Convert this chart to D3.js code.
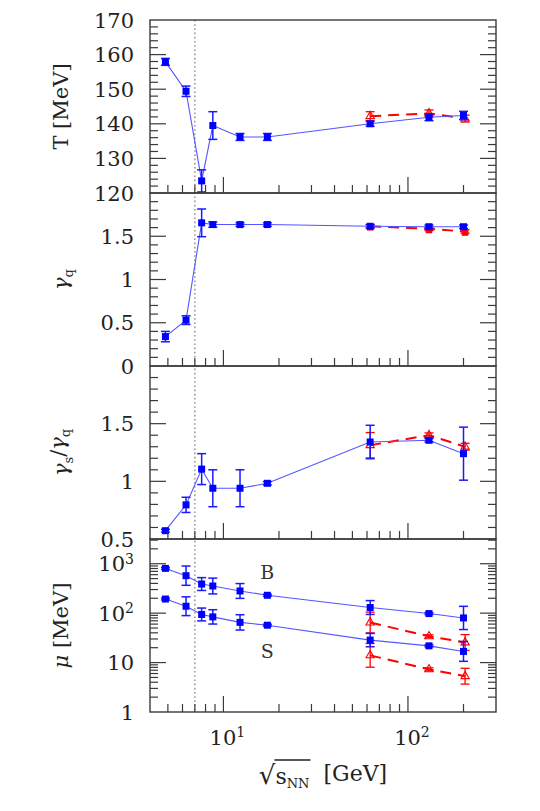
<!DOCTYPE html>
<html><head><meta charset="utf-8">
<script src="https://cdn.jsdelivr.net/npm/d3@7"></script>
<style>body{margin:0;background:#fff}svg{display:block}</style>
</head><body>
<svg id="c" width="540" height="811"></svg>
<script>
// ---------------- data ----------------
const energies    = [4.85, 6.27, 7.62, 8.76, 12.3, 17.3, 62.4, 130, 200];
const redEnergies = [62.4, 130, 204];

const tempBlue    = [157.9, 149.4, 123.5, 139.5, 136.2, 136.2, 140.0, 141.9, 142.4];
const tempBlueErr = [1.0, 1.5, 3.2, 4.0, 1.0, 1.0, 0.7, 1.0, 1.2];
const tempRed     = [142.2, 143.0, 141.5];
const tempRedErr  = [1.3, 1.0, 1.0];

const gqBlue      = [0.34, 0.53, 1.655, 1.635, 1.635, 1.635, 1.615, 1.61, 1.61];
const gqBlueErr   = [0.06, 0.05, 0.16, 0.03, 0.02, 0.02, 0.02, 0.02, 0.02];
const gqRed       = [1.615, 1.585, 1.555];
const gqRedErr    = [0.02, 0.02, 0.02];

const gsqBlue     = [0.572, 0.796, 1.106, 0.94, 0.94, 0.983, 1.341, 1.356, 1.24];
const gsqBlueErr  = [0.012, 0.066, 0.134, 0.16, 0.16, 0.015, 0.145, 0.015, 0.23];
const gsqRed      = [1.313, 1.40, 1.30];
const gsqRedErr   = [0.11, 0.02, 0.03];

// chemical potentials (MeV); errors are given in decades (log10 half-widths)
const muBBlue       = [804, 573, 388, 354, 281, 230, 130, 98, 80];
const muBBlueLogErr = [0.02, 0.195, 0.13, 0.16, 0.15, 0.02, 0.14, 0.02, 0.235];
const muSBlue       = [193, 138, 94, 84, 65, 57, 28.5, 21.8, 16.8];
const muSBlueLogErr = [0.02, 0.19, 0.13, 0.145, 0.155, 0.02, 0.135, 0.02, 0.2];
const muBRed        = [64.6, 34, 25.5];
const muBRedLogErr  = [0.21, 0.03, 0.16];
const muSRed        = [14, 7.3, 5.3];
const muSRedLogErr  = [0.24, 0.03, 0.16];

const panelLabels = ["T [MeV]", "γq", "γs/γq", "μ [MeV]"];
const tickLabels1 = [120, 130, 140, 150, 160, 170];
const tickLabels2 = [0, 0.5, 1, 1.5];
const tickLabels3 = [0.5, 1, 1.5];
const tickLabels4 = [1, 10, 100, 1000];
const xTickLabels = [10, 100];
const annotations = [{text: "B", e: 17.3, v: 500}, {text: "S", e: 17.3, v: 12.3}];
const dividerEnergy = 7;

// ---------------- layout ----------------
const L = 150, R = 496, TOP = 20, PH = 173;
const FONT = "'DejaVu Serif', serif";
const BLUE = "#0000ff", RED = "#ff0000", AX = "#3a3a3a";
const svg = d3.select("#c");
const x = d3.scaleLog().domain([4, 300]).range([L, R]);

const zip = (e, v, er) => e.map((d, i) => ({e: d, v: v[i], err: er[i]}));

const panels = [
  {y: d3.scaleLinear().domain([120, 170]),
   majors: d3.range(120, 171, 10), minors: d3.range(120, 170.1, 2),
   labels: tickLabels1,
   blue: [zip(energies, tempBlue, tempBlueErr)], red: [zip(redEnergies, tempRed, tempRedErr)], redFilled: false},
  {y: d3.scaleLinear().domain([0, 2]),
   majors: d3.range(0, 2.01, 0.5), minors: d3.range(0, 2.001, 0.1),
   labels: tickLabels2,
   blue: [zip(energies, gqBlue, gqBlueErr)], red: [zip(redEnergies, gqRed, gqRedErr)], redFilled: true},
  {y: d3.scaleLinear().domain([0.5, 2]),
   majors: d3.range(0.5, 2.01, 0.5), minors: d3.range(0.5, 2.001, 0.1),
   labels: tickLabels3,
   blue: [zip(energies, gsqBlue, gsqBlueErr)], red: [zip(redEnergies, gsqRed, gsqRedErr)], redFilled: false},
  {y: d3.scaleLog().domain([1, Math.pow(10, 3.5)]),
   majors: [1, 10, 100, 1000],
   minors: [].concat(...[1, 10, 100, 1000].map(b => d3.range(2, 10).map(k => k * b))).filter(v => v < 3162),
   labels: tickLabels4, log: true,
   blue: [zip(energies, muBBlue, muBBlueLogErr), zip(energies, muSBlue, muSBlueLogErr)],
   red: [zip(redEnergies, muBRed, muBRedLogErr), zip(redEnergies, muSRed, muSRedLogErr)], redFilled: false}
];

const defs = svg.append("defs");

// dotted divider line behind everything
svg.append("line").attr("x1", x(dividerEnergy)).attr("x2", x(dividerEnergy))
  .attr("y1", TOP).attr("y2", TOP + 4 * PH)
  .attr("stroke", "#9a9a9a").attr("stroke-width", 1.6).attr("stroke-dasharray", "1.6,2.6");

panels.forEach((p, i) => {
  const top = TOP + i * PH, bot = top + PH;
  const y = p.y.range([bot, top]);
  defs.append("clipPath").attr("id", "clip" + i).append("rect")
    .attr("x", L).attr("y", top).attr("width", R - L).attr("height", PH);
  const g = svg.append("g").attr("clip-path", `url(#clip${i})`);

  const lineGen = d3.line().x(d => x(d.e)).y(d => y(d.v));
  const errBars = (sel, data, color, w) => {
    const eg = sel.append("g").attr("stroke", color).attr("stroke-width", w).attr("fill", "none");
    data.forEach(d => {
      const lo = p.log ? d.v / Math.pow(10, d.err) : d.v - d.err;
      const hi = p.log ? d.v * Math.pow(10, d.err) : d.v + d.err;
      const cx = x(d.e);
      eg.append("line").attr("x1", cx).attr("x2", cx).attr("y1", y(lo)).attr("y2", y(hi));
      eg.append("line").attr("x1", cx - 4.5).attr("x2", cx + 4.5).attr("y1", y(lo)).attr("y2", y(lo));
      eg.append("line").attr("x1", cx - 4.5).attr("x2", cx + 4.5).attr("y1", y(hi)).attr("y2", y(hi));
    });
  };

  // red series
  p.red.forEach(series => {
    g.append("path").datum(series).attr("d", lineGen).attr("fill", "none")
      .attr("stroke", RED).attr("stroke-width", 2).attr("stroke-dasharray", "11,7");
    errBars(g, series, RED, 1.3);
    const sym = p.redFilled ? d3.symbol().type(d3.symbolSquare).size(30) : d3.symbol().type(d3.symbolTriangle).size(30);
    g.selectAll(null).data(series).enter().append("path")
      .attr("d", sym())
      .attr("transform", d => `translate(${x(d.e)},${y(d.v) + (p.redFilled ? 1 : 0)})`)
      .attr("fill", p.redFilled ? RED : "none")
      .attr("stroke", RED).attr("stroke-width", 1.1);
  });

  // blue series
  p.blue.forEach(series => {
    g.append("path").datum(series).attr("d", lineGen).attr("fill", "none")
      .attr("stroke", "#5555ff").attr("stroke-width", 1.1);
    errBars(g, series, "#1a1aff", 1.5);
    g.selectAll(null).data(series).enter().append("rect")
      .attr("x", d => x(d.e) - 3.5).attr("y", d => y(d.v) - 3.5)
      .attr("width", 7).attr("height", 7).attr("fill", BLUE);
  });

  // frame
  svg.append("rect").attr("x", L).attr("y", top).attr("width", R - L).attr("height", PH)
    .attr("fill", "none").attr("stroke", AX).attr("stroke-width", 1.4);

  // y ticks (both sides, inward)
  const tg = svg.append("g").attr("stroke", AX).attr("stroke-width", 1.2);
  const isMajor = v => p.majors.some(m => Math.abs(m - v) < 1e-6);
  p.minors.forEach(v => {
    if (isMajor(v)) return;
    const yy = y(v);
    if (yy <= top + 0.5 || yy >= bot - 0.5) return;
    tg.append("line").attr("x1", L).attr("x2", L + 8).attr("y1", yy).attr("y2", yy);
    tg.append("line").attr("x1", R).attr("x2", R - 8).attr("y1", yy).attr("y2", yy);
  });
  p.majors.forEach(v => {
    const yy = y(v);
    if (yy <= top + 0.5 || yy >= bot - 0.5) return;
    tg.append("line").attr("x1", L).attr("x2", L + 16).attr("y1", yy).attr("y2", yy);
    tg.append("line").attr("x1", R).attr("x2", R - 16).attr("y1", yy).attr("y2", yy);
  });

  // x ticks at bottom of each panel
  const xMinors = [5, 6, 7, 8, 9, 20, 30, 40, 50, 60, 70, 80, 90, 200];
  xMinors.forEach(v => tg.append("line").attr("x1", x(v)).attr("x2", x(v)).attr("y1", bot).attr("y2", bot - 8));
  xTickLabels.forEach(v => tg.append("line").attr("x1", x(v)).attr("x2", x(v)).attr("y1", bot).attr("y2", bot - 16));

  // y tick labels
  p.labels.forEach(v => {
    const t = svg.append("text").attr("x", L - 16).attr("y", y(v)).attr("dy", "0.36em")
      .attr("text-anchor", "end").attr("font-family", FONT).attr("font-size", 21).attr("fill", "#222");
    if (p.log && v >= 100) {
      t.append("tspan").text("10");
      t.append("tspan").attr("font-size", 14).attr("dy", "-0.55em").text(String(Math.round(Math.log10(v))));
    } else {
      t.text(String(v));
    }
  });

  // y axis title
  const cy = (top + bot) / 2;
  const lab = svg.append("text").attr("transform", `translate(68,${cy}) rotate(-90)`)
    .attr("text-anchor", "middle").attr("font-family", FONT).attr("font-size", 21).attr("fill", "#222");
  if (i === 0) {
    lab.text(panelLabels[0]);
  } else if (i === 1) {
    lab.append("tspan").attr("font-style", "italic").text("γ");
    lab.append("tspan").attr("font-size", 13).attr("dy", "0.35em").text("q");
  } else if (i === 2) {
    lab.append("tspan").attr("font-style", "italic").text("γ");
    lab.append("tspan").attr("font-size", 13).attr("dy", "0.35em").text("s");
    lab.append("tspan").attr("dy", "-0.35em").attr("font-size", 21).text("/");
    lab.append("tspan").attr("font-style", "italic").text("γ");
    lab.append("tspan").attr("font-size", 13).attr("dy", "0.35em").text("q");
  } else {
    lab.append("tspan").attr("font-style", "italic").text("μ");
    lab.append("tspan").text(" [MeV]");
  }

  if (p.log) {
    annotations.forEach(a => {
      svg.append("text").attr("x", x(a.e)).attr("y", y(a.v)).attr("text-anchor", "middle")
        .attr("font-family", FONT).attr("font-size", 19).attr("fill", "#333").text(a.text);
    });
  }
});

// x tick labels
xTickLabels.forEach(v => {
  const t = svg.append("text").attr("x", x(v) + 4).attr("y", 745).attr("text-anchor", "middle")
    .attr("font-family", FONT).attr("font-size", 21).attr("fill", "#222");
  t.append("tspan").text("10");
  t.append("tspan").attr("font-size", 14).attr("dy", "-0.55em").text(String(Math.round(Math.log10(v))));
});

// x axis title: √s_NN [GeV]
const xt = svg.append("text").attr("x", (L + R) / 2).attr("y", 784).attr("text-anchor", "middle")
  .attr("font-family", FONT).attr("font-size", 22).attr("fill", "#222").attr("xml:space", "preserve");
xt.append("tspan").attr("font-size", 26).text("√");
xt.append("tspan").text("s");
xt.append("tspan").attr("font-size", 13).attr("dy", "0.3em").text("NN");
xt.append("tspan").attr("dy", "-0.3em").text("  [GeV]");
try {
  const n = xt.node();
  const startS = n.getStartPositionOfChar(1).x;
  const endNN = n.getEndPositionOfChar(3).x;
  svg.append("line").attr("x1", startS - 1).attr("x2", endNN + 1)
    .attr("y1", 760).attr("y2", 760).attr("stroke", "#222").attr("stroke-width", 1.3);
} catch (e) {}
</script>
</body></html>
